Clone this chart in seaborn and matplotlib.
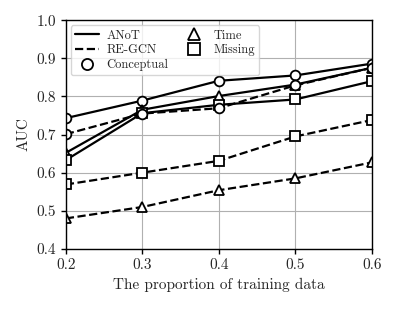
import pandas as pd
import seaborn as sns
import matplotlib.pyplot as plt
from matplotlib.lines import Line2D

proportion = [0.2, 0.3, 0.4, 0.5, 0.6]

# ANoT (solid)
anot_conceptual = [0.743, 0.789, 0.841, 0.855, 0.886]
anot_time = [0.652, 0.765, 0.801, 0.831, 0.875]
anot_missing = [0.633, 0.756, 0.778, 0.792, 0.840]

# RE-GCN (dashed)
regcn_conceptual = [0.701, 0.755, 0.769, 0.829, 0.875]
regcn_time = [0.480, 0.510, 0.554, 0.585, 0.627]
regcn_missing = [0.569, 0.600, 0.631, 0.695, 0.738]

series = [
    ('ANoT', 'Conceptual', anot_conceptual),
    ('ANoT', 'Time', anot_time),
    ('ANoT', 'Missing', anot_missing),
    ('RE-GCN', 'Conceptual', regcn_conceptual),
    ('RE-GCN', 'Time', regcn_time),
    ('RE-GCN', 'Missing', regcn_missing),
]
rows = []
for model, task, vals in series:
    for p, v in zip(proportion, vals):
        rows.append({'proportion': p, 'AUC': v, 'model': model, 'task': task})
df = pd.DataFrame(rows)

sns.set_style('ticks')
plt.rcParams['font.family'] = 'serif'
plt.rcParams['font.serif'] = ['cmr10']
plt.rcParams['mathtext.fontset'] = 'cm'
plt.rcParams['axes.formatter.use_mathtext'] = True

line_styles = {'ANoT': '-', 'RE-GCN': '--'}
markers = {'Conceptual': 'o', 'Time': '^', 'Missing': 's'}

fig = plt.figure(figsize=(3.99, 3.10), dpi=100)
ax = fig.add_axes([0.165, 0.197, 0.767, 0.738])

for (model, task), sub in df.groupby(['model', 'task'], sort=False):
    sns.lineplot(data=sub, x='proportion', y='AUC', ax=ax, color='black',
                 linestyle=line_styles[model], marker=markers[task],
                 markersize=7, markerfacecolor='white', markeredgecolor='black',
                 markeredgewidth=1.3, linewidth=1.6, legend=False)

ax.set_xlim(0.2, 0.6)
ax.set_ylim(0.4, 1.0)
ax.set_xticks(proportion)
ax.set_xticklabels(['0.2', '0.3', '0.4', '0.5', '0.6'])
ax.set_yticks([0.4, 0.5, 0.6, 0.7, 0.8, 0.9, 1.0])
ax.set_yticklabels(['0.4', '0.5', '0.6', '0.7', '0.8', '0.9', '1.0'])
ax.grid(True, color='#b0b0b0', linewidth=0.8)
ax.tick_params(labelsize=11, color='black', width=1, length=3.5)
for s in ax.spines.values():
    s.set_color('black')
    s.set_linewidth(1)
ax.set_xlabel('The proportion of training data', fontsize=11)
ax.set_ylabel('AUC', fontsize=11)

handles = [
    Line2D([], [], color='black', linestyle='-', linewidth=1.6, label='ANoT'),
    Line2D([], [], color='black', linestyle='--', linewidth=1.6, label='RE-GCN'),
    Line2D([], [], color='black', linestyle='none', marker='o', markersize=8,
           markerfacecolor='white', markeredgewidth=1.3, label='Conceptual'),
    Line2D([], [], color='black', linestyle='none', marker='^', markersize=8,
           markerfacecolor='white', markeredgewidth=1.3, label='Time'),
    Line2D([], [], color='black', linestyle='none', marker='s', markersize=8,
           markerfacecolor='white', markeredgewidth=1.3, label='Missing'),
]
ax.legend(handles=handles, ncol=2, loc='upper left', fontsize=9,
          handlelength=1.9, handletextpad=0.6, columnspacing=1.1,
          labelspacing=0.2, borderpad=0.35, borderaxespad=0.4, framealpha=0.8)

fig.savefig('out.png', dpi=100)
